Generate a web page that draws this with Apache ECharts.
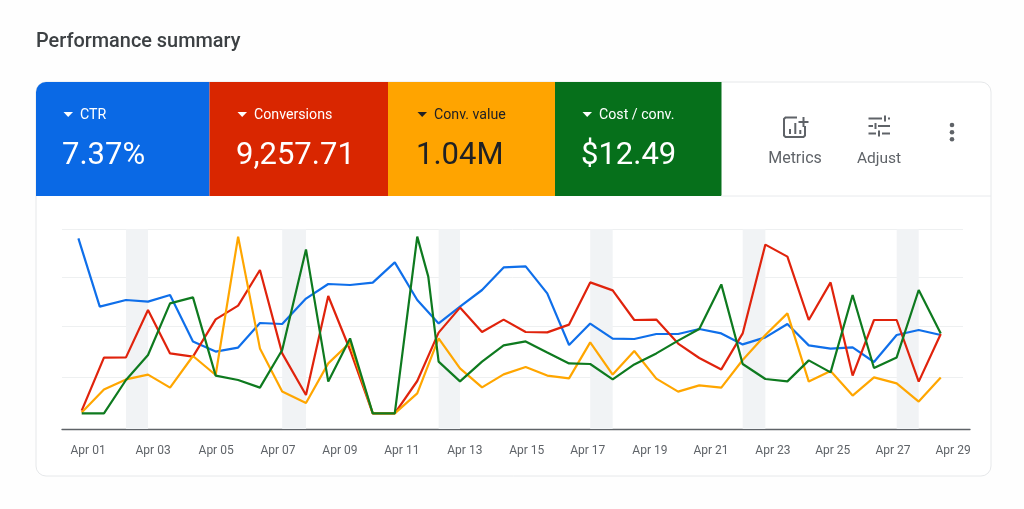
<!DOCTYPE html>
<html><head><meta charset="utf-8">
<style>html,body{margin:0;padding:0;background:#fefefe}#c{width:1024px;height:509px}</style>
<script src="https://cdn.jsdelivr.net/npm/echarts@6/dist/echarts.min.js"></script>
</head><body><div id="c"></div>
<script>
const titleText = "Performance summary";
const kpiNames = ["CTR","Conversions","Conv. value","Cost / conv."];
const kpiValues = ["7.37%","9,257.71","1.04M","$12.49"];
const toolNames = ["Metrics","Adjust"];
const tickLabels = ["Apr 01","Apr 03","Apr 05","Apr 07","Apr 09","Apr 11","Apr 13","Apr 15","Apr 17","Apr 19","Apr 21","Apr 23","Apr 25","Apr 27","Apr 29"];
const tickSlots = [0.29,3.24,6.10,8.91,11.72,14.53,17.39,20.2,22.97,25.79,28.56,31.37,34.09,36.82,39.55];
const gridLevels = [26,51.25,76,100];
const pointSlots = [0,1.01,2.01,3.01,4.01,5.05,6.08,7.10,8.09,9.10,10.18,11.19,12.18,13.21,14.21,15.23,16.20,17.17,18.17,19.15,20.15,21.13,22.12,23.08,24.1,25.08,26.08,27.07,28.03,29.03,30.0,31.03,32.03,33.0,33.99,34.99,35.96,36.99,37.99,38.99];
const weekendBands = [[2,3],[9,10],[16,17],[23,24],[30,31],[37,38]];
const ctr = [95.3,61.2,64.5,63.7,67,43.7,38.7,40.7,53,52.5,65.2,72.5,72,73.2,83.3,64.5,52.8,61.2,69.5,80.8,81.3,67.8,42,52.7,45.2,45,47.5,47.5,50,47.8,42.3,45.8,52.5,41.8,40.2,40.8,33.5,47,49.5,47];
const conversions = [9.2,35.7,35.8,59.5,37.8,36.2,54.8,61.7,79.5,37.8,17,66.5,39.5,7.8,7.8,24,48.2,60.7,48.5,54.7,48.5,48.3,52.2,73.3,69.3,54.5,54.7,42.7,35.5,29.8,47.8,92.2,86.2,54.5,73.3,26.7,54.5,54.5,23.7,47.5];
const convValue = [8.2,19.7,24.8,27.2,20.7,36.5,27,96.2,40.3,18.7,13,32.8,43.2,7.8,7.8,17.8,45.3,30.3,20.8,27.3,31,26.7,25.3,43.3,27.2,39,25.2,18.7,21.8,20.7,34.5,47,57.8,23.7,29,16.7,25.8,22.8,13.7,25.8];
const costConv = [7.8,7.8,24.5,37,62.8,65.8,26.7,24.5,20.7,39.5,89.8,23.7,45.3,7.8,7.8,96.2,76.2,33.7,23.8,33.7,41.8,43.8,38.3,32.8,32.5,24.8,32.3,37.8,44.2,50,72.3,32.5,25,23.8,34.3,28.3,67,30.5,35.8,69.5,47.8];
const ctrSlots = [-0.15,0.82].concat(pointSlots.slice(2));
const costSlots = pointSlots.slice(0,16).concat([15.73]).concat(pointSlots.slice(16));

const font = "Roboto";
const tiles = [
  {x:36,w:173.5,c:"#0a69e5",fg:"#ffffff"},
  {x:209.5,w:178.5,c:"#d92600",fg:"#ffffff"},
  {x:388,w:167,c:"#ffa400",fg:"#202124"},
  {x:555,w:166.5,c:"#06701b",fg:"#ffffff"}
];
const textX = [62,236,416,581];
const g = [];
g.push({type:"text",x:36,y:42,style:{text:titleText,font:"500 19.9px "+font,fill:"#3c4043",textVerticalAlign:"middle"}});
g.push({type:"rect",shape:{x:36,y:82,width:955,height:394,r:10},style:{fill:"#fff",stroke:"#e6e8ea",lineWidth:1},z:-10});
tiles.forEach((t,i)=>{
  const r = i===0 ? [10,0,0,0] : 0;
  g.push({type:"rect",shape:{x:t.x,y:82,width:t.w,height:114,r:r},style:{fill:t.c},z:1});
  const tx = textX[i];
  g.push({type:"polygon",shape:{points:[[tx+1.5,112],[tx+11,112],[tx+6.2,117]]},style:{fill:t.fg},z:2});
  g.push({type:"text",x:tx+18,y:115,style:{text:kpiNames[i],font:"400 14.2px "+font,fill:t.fg,textVerticalAlign:"middle"},z:2});
  g.push({type:"text",x:tx,y:156,style:{text:kpiValues[i],font:"400 31px "+font,fill:t.fg,textVerticalAlign:"middle"},z:2});
});
g.push({type:"line",shape:{x1:721,y1:196,x2:991,y2:196},style:{stroke:"#e8eaed",lineWidth:1},z:1});
const ic = "#5f6368";
const seg = (x1,y1,x2,y2)=>g.push({type:"line",shape:{x1,y1,x2,y2},style:{stroke:ic,lineWidth:2},z:2});
g.push({type:"polyline",shape:{points:[[797,117.5],[785.5,117.5],[784,119],[784,135.5],[785.5,137],[803.5,137],[805,135.5],[805,126]]},style:{fill:null,stroke:ic,lineWidth:2},z:2});
[[790,129,790,134],[795.3,123,795.3,134],[800.3,130,800.3,134],[803.5,117,803.5,127],[798.5,122,808.5,122]].forEach(s=>seg(...s));
[[868.5,118.5,882,118.5],[888,118.5,890,118.5],[885,115.5,885,121.5],[868.5,126,873,126],[878,126,890,126],[875.5,123,875.5,129],[868.5,133.5,876,133.5],[882,133.5,890,133.5],[879,130.5,879,136.5]].forEach(s=>seg(...s));
[125,132.3,139.3].forEach(y=>g.push({type:"circle",shape:{cx:952,cy:y,r:2.3},style:{fill:ic},z:2}));
[795,879].forEach((x,i)=>g.push({type:"text",x:x,y:159,style:{text:toolNames[i],font:"400 "+[16,15.5][i]+"px "+font,fill:ic,textAlign:"center",textVerticalAlign:"middle"},z:2}));

const zip = (xs,ys)=>ys.map((v,i)=>[xs[i],v]);
const lineSeries = (name,xs,ys,color,extra)=>Object.assign({name,type:"line",xAxisIndex:0,yAxisIndex:0,data:zip(xs,ys),symbol:"none",lineStyle:{color,width:2.2},itemStyle:{color},z:5,silent:true},extra||{});

const chart = echarts.init(document.getElementById("c"),null,{renderer:"canvas"});
chart.setOption({
  animation:false,
  backgroundColor:"#fefefe",
  graphic:{z:-1,elements:g},
  grid:[{left:62,right:61,top:229,height:200},{left:62,right:54,top:229,height:200}],
  xAxis:[
    {type:"value",gridIndex:0,min:-0.894,max:40,splitLine:{show:false},axisLine:{show:false},axisTick:{show:false},
     axisLabel:{show:true,margin:16,color:"#5f6368",fontFamily:font,fontSize:12,customValues:tickSlots,formatter:v=>tickLabels[tickSlots.indexOf(v)]}},
    {type:"value",gridIndex:1,min:0,max:1,splitLine:{show:false},axisTick:{show:false},axisLabel:{show:false},
     axisLine:{show:true,onZero:false,lineStyle:{color:"#5f6368",width:1.3}}}
  ],
  yAxis:[
    {type:"value",gridIndex:0,min:0,max:100,axisLabel:{show:false},axisLine:{show:false},axisTick:{show:false,customValues:gridLevels},splitLine:{lineStyle:{color:"#eef0f1",width:1}}},
    {type:"value",gridIndex:1,min:0,max:1,show:false}
  ],
  series:[
    lineSeries("CTR",ctrSlots,ctr,"#0f6fea",{markArea:{silent:true,itemStyle:{color:"#f1f3f5"},data:weekendBands.map(b=>[{xAxis:pointSlots[b[0]]},{xAxis:pointSlots[b[1]]}])},z:4}),
    lineSeries("Conversions",pointSlots,conversions,"#e0230c"),
    lineSeries("Conv. value",pointSlots,convValue,"#ffa600"),
    lineSeries("Cost / conv.",costSlots,costConv,"#0e7a1f")
  ]
});
</script></body></html>
